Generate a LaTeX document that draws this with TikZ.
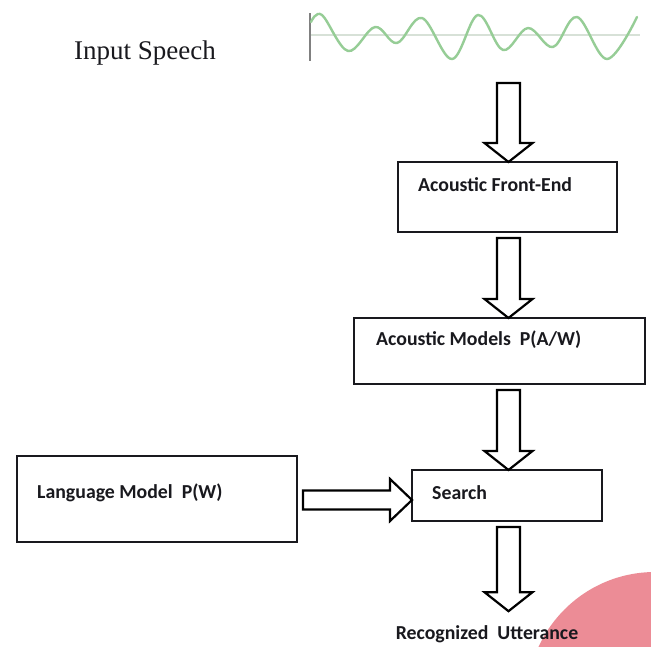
\documentclass[tikz,border=0pt]{standalone}
\usepackage{fontspec}
\setmainfont{Carlito}
\newfontfamily\speechfont{Liberation Serif}
\usetikzlibrary{calc}
\definecolor{wavegreen}{RGB}{150,205,150}
\definecolor{axisgray}{RGB}{215,225,215}
\definecolor{wmpink}{RGB}{236,140,150}
\definecolor{ink}{RGB}{25,25,30}
\newcommand{\vblk}[2]{%
  \draw[blk] ($(#1)+(-11.5,0)$) -- ($(#2)+(-11.5,-19)$) -- ($(#2)+(-24,-19)$) -- (#2)
    -- ($(#2)+(24,-19)$) -- ($(#2)+(11.5,-19)$) -- ($(#1)+(11.5,0)$) -- cycle;}
\newcommand{\hblk}[2]{%
  \draw[blk] ($(#1)+(0,-9.5)$) -- ($(#2)+(-22,-9.5)$) -- ($(#2)+(-22,-21)$) -- (#2)
    -- ($(#2)+(-22,21)$) -- ($(#2)+(-22,9.5)$) -- ($(#1)+(0,9.5)$) -- cycle;}
\begin{document}
\begin{tikzpicture}[x=1pt,y=-1pt,
  box/.style={draw=ink,line width=1.8pt,inner sep=0pt,outer sep=0pt},
  lbl/.style={font=\fontsize{19.8}{23}\selectfont\bfseries,text=ink,inner sep=0pt,anchor=west},
  blk/.style={draw=black,line width=2.2pt,fill=white,line join=miter},
  wave/.style={draw=wavegreen,line width=2.4pt,line cap=round}]
\useasboundingbox (0,0) rectangle (651,646);
\clip (0,0) rectangle (651,646);
\fill[white] (0,0) rectangle (651,646);
% watermark
\fill[wmpink] (655,700) circle (128);
% input speech
\node[font=\fontsize{27}{30}\selectfont\speechfont,text=ink,inner sep=0pt] (in) at (145,53) {Input Speech};
% waveform
\draw[axisgray,line width=1.2pt] (310,35) -- (640,35);
\draw[gray,line width=1.4pt] (310,13) -- (310,61);
\draw[wave] plot[smooth,tension=0.6] coordinates {(311,22) (322,15) (348,51) (375,27) (397,43) (422,18) (452,59) (478,15) (503,50) (528,28) (553,47) (577,17) (607,59) (637,17)};
% boxes
\node[box,minimum width=219pt,minimum height=70pt] (fe) at (507.5,197) {};
\node[lbl] (fet) at (418,185) {Acoustic Front-End};
\node[box,minimum width=291pt,minimum height=66pt] (am) at (499.5,351) {};
\node[lbl] (amt) at (376,340) {Acoustic Models\ \ P(A/W)};
\node[box,minimum width=280pt,minimum height=86pt] (lm) at (157,499) {};
\node[lbl] (lmt) at (37,493) {Language Model\ \ P(W)};
\node[box,minimum width=190pt,minimum height=51pt] (se) at (507,495.5) {};
\node[lbl] (set) at (432,493) {Search};
\node[lbl,anchor=center] (ru) at (487,634) {Recognized\ \ Utterance};
% arrow coordinates
\coordinate (ax) at (508.5,0);
\coordinate (ry) at (0,500);
\coordinate (s1) at (508.5,83);
\coordinate (t1) at (fe.north -| ax);
\coordinate (s2) at ($(fe.south -| ax)+(0,6)$);
\coordinate (t2) at (am.north -| ax);
\coordinate (s3) at ($(am.south -| ax)+(0,6)$);
\coordinate (t3) at (se.north -| ax);
\coordinate (s4) at ($(se.south -| ax)+(0,6)$);
\coordinate (t4) at ($(ru.north -| ax)+(0,-14)$);
\coordinate (hs) at ($(lm.east |- ry)+(6,0)$);
\coordinate (ht) at (se.west |- ry);
\vblk{s1}{t1}
\vblk{s2}{t2}
\vblk{s3}{t3}
\vblk{s4}{t4}
\hblk{hs}{ht}
\end{tikzpicture}
\end{document}
